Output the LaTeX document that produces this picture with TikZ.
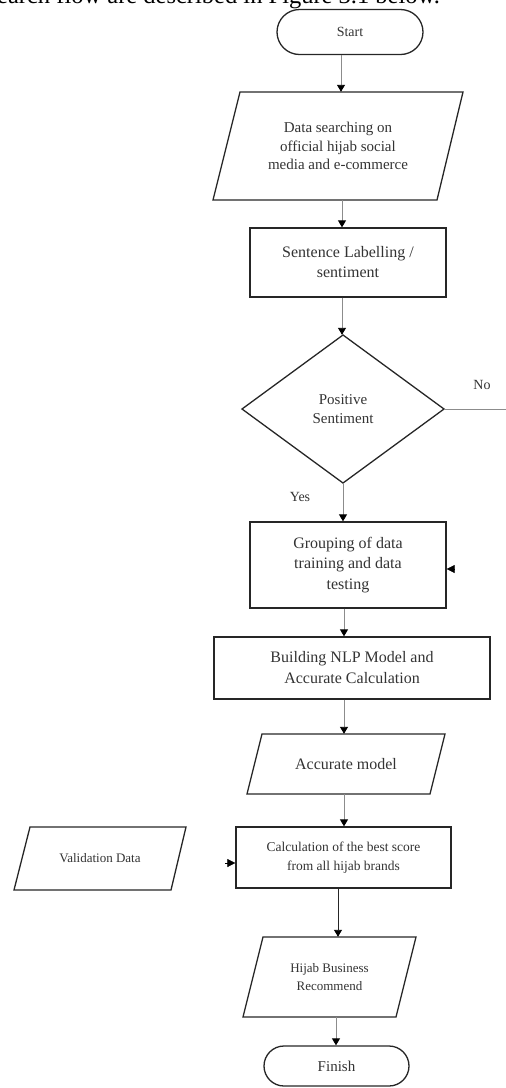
\documentclass[tikz,border=0pt]{standalone}
\usepackage{fontspec}
\setmainfont{Liberation Serif}
\usetikzlibrary{arrows.meta,shapes.misc}
\tikzset{
  shp/.style={draw=black!85, line width=1.3pt},
  term/.style={shp, rounded rectangle, inner sep=0pt},
  boxs/.style={shp, rectangle, inner sep=0pt},
  ghost/.style={rectangle, inner sep=0pt, draw=none},
  txt/.style={text=black!80, align=center},
  conn/.style={draw=black!45, line width=0.9pt, -{Triangle[length=7pt,width=8pt,color=black]}},
  plain/.style={draw=black!45, line width=0.9pt},
  tiponly/.style={draw=black, line width=0.6pt, -{Triangle[length=8pt,width=8pt,color=black]}},
}
\begin{document}
\begin{tikzpicture}[x=1pt,y=-1pt]
\useasboundingbox (0,0) rectangle (506,1088);
\clip (0,0) rectangle (506,1088);
% header (cut-off line of text above the figure)
\node[anchor=base west, inner sep=0pt, font=\fontsize{24.5}{28}\selectfont] (header) at (-3,3.5) {earch flow are described in Figure 3.1 below.};
% Start
\node[term, minimum width=146pt, minimum height=45pt, txt, font=\fontsize{14}{16}\selectfont] (start) at (350,32) {Start};
% Data searching (parallelogram)
\draw[shp] (240,92) -- (463,92) -- (437,200) -- (213,200) -- cycle;
\node[ghost, minimum width=200pt, minimum height=108pt, txt, font=\fontsize{15}{18.5}\selectfont] (data) at (338,146) {Data searching on\\official hijab social\\media and e-commerce};
% Sentence labelling
\node[boxs, minimum width=196pt, minimum height=69pt, txt, font=\fontsize{16}{20}\selectfont] (label) at (348,262.5) {Sentence Labelling /\\sentiment};
% Decision
\draw[shp] (343,335) -- (444,409) -- (343,483) -- (242,409) -- cycle;
\node[ghost, minimum width=202pt, minimum height=148pt, txt, font=\fontsize{15}{19}\selectfont] (dec) at (343,409) {Positive\\Sentiment};
% Grouping
\node[boxs, minimum width=196pt, minimum height=86pt, txt, font=\fontsize{16}{20.5}\selectfont] (group) at (348,565) {Grouping of data\\training and data\\testing};
% Building
\node[boxs, minimum width=276pt, minimum height=62pt, txt, font=\fontsize{16}{21}\selectfont] (build) at (352,668) {Building NLP Model and\\Accurate Calculation};
% Accurate model
\draw[shp] (262,734) -- (445,734) -- (430,794) -- (247,794) -- cycle;
\node[ghost, minimum width=180pt, minimum height=60pt, txt, font=\fontsize{16}{20}\selectfont] (accm) at (346,764) {Accurate model};
% Calculation
\node[boxs, minimum width=215pt, minimum height=61pt, txt, font=\fontsize{13.5}{19}\selectfont] (calc) at (343.5,857.5) {Calculation of the best score\\from all hijab brands};
% Validation data
\draw[shp] (30,827) -- (186,827) -- (171,890) -- (14,890) -- cycle;
\node[ghost, minimum width=150pt, minimum height=63pt, txt, font=\fontsize{13}{16}\selectfont] (valid) at (100,858.5) {Validation Data};
% Hijab business recommend
\draw[shp] (263,937) -- (416,937) -- (396,1017) -- (243,1017) -- cycle;
\node[ghost, minimum width=150pt, minimum height=80pt, txt, font=\fontsize{13}{18}\selectfont] (hijab) at (329.5,977) {Hijab Business\\Recommend};
% Finish
\node[term, minimum width=145pt, minimum height=40pt, txt, font=\fontsize{15}{18}\selectfont] (finish) at (336.5,1066) {Finish};
% labels
\node[txt, font=\fontsize{14}{16}\selectfont] (yes) at (300,497) {Yes};
\node[txt, font=\fontsize{14}{16}\selectfont] (no) at (482,385) {No};
% connectors
\draw[conn] (start.south -| 341,0) -- (data.north -| 341,0);
\draw[conn] (data.south -| 342,0) -- (label.north -| 342,0);
\draw[conn] (label.south -| 342,0) -- (dec.north -| 342,0);
\coordinate (noend) at (506,409);
\draw[plain] (dec.east) -- (noend);
\draw[conn] (dec.south) -- (group.north -| dec.south);
\draw[conn] (group.south -| 344,0) -- (build.north -| 344,0);
\draw[conn] (build.south -| 344,0) -- (accm.north -| 344,0);
\draw[conn] (accm.south -| 344,0) -- (calc.north -| 344,0);
\draw[conn, draw=black!85] (calc.south -| 338,0) -- (hijab.north -| 338,0);
\draw[conn] (hijab.south -| 336,0) -- (finish.north -| 336,0);
\coordinate (gtip) at (454,569);
\draw[tiponly] (gtip) -- (group.east |- gtip);
\coordinate (vtip) at (225,863);
\draw[tiponly] (vtip) -- (calc.west |- vtip);
\end{tikzpicture}
\end{document}
